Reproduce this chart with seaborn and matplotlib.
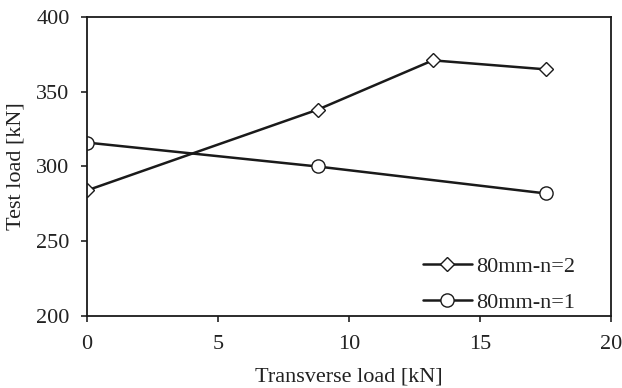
import matplotlib
matplotlib.use("Agg")
import matplotlib.pyplot as plt
import seaborn as sns
import pandas as pd

# Measured test loads against applied transverse load
transverse_n2 = [0.0, 8.8, 13.2, 17.5]
test_load_n2 = [284, 338, 371, 365]
transverse_n1 = [0.0, 8.8, 17.5]
test_load_n1 = [316, 300, 282]
series_labels = ["80mm-n=2", "80mm-n=1"]
x_ticks = [0, 5, 10, 15, 20]
y_ticks = [200, 250, 300, 350, 400]

sns.set_theme(style="ticks")
plt.rcParams["font.family"] = ["Liberation Serif", "DejaVu Serif"]

df_n2 = pd.DataFrame({"x": transverse_n2, "y": test_load_n2})
df_n1 = pd.DataFrame({"x": transverse_n1, "y": test_load_n1})

W, H = 622, 388
fig = plt.figure(figsize=(W / 100, H / 100), dpi=100)
left, right, top, bottom = 87, 611, 17, 316
ax = fig.add_axes([left / W, 1 - bottom / H, (right - left) / W, (bottom - top) / H])

ink = "#1a1a1a"
line_kw = dict(color=ink, linewidth=1.8, markerfacecolor="white",
               markeredgecolor=ink, markeredgewidth=1.0)
sns.lineplot(data=df_n2, x="x", y="y", ax=ax, marker="D", markersize=7.2,
             label=series_labels[0], **line_kw)
sns.lineplot(data=df_n1, x="x", y="y", ax=ax, marker="o", markersize=9.5,
             label=series_labels[1], **line_kw)

ax.set_xlim(0, 20)
ax.set_ylim(200, 400)
ax.set_xticks(x_ticks)
ax.set_yticks(y_ticks)
ax.set_xlabel("Transverse load [kN]", fontsize=16, color="#222222", labelpad=10)
ax.set_ylabel("Test load [kN]", fontsize=16, color="#222222", labelpad=8)
ax.tick_params(axis="both", labelsize=16, colors="#222222", direction="out",
               length=4.5, width=1.2)
ax.tick_params(axis="y", pad=8)
ax.tick_params(axis="x", pad=9)
for side in ["left", "right", "top", "bottom"]:
    ax.spines[side].set_visible(True)
    ax.spines[side].set_linewidth(1.3)
    ax.spines[side].set_color(ink)

leg_x = (423 - left) / (right - left)
leg_y = (bottom - 284.5) / (bottom - top)
leg = ax.legend(loc="center left", bbox_to_anchor=(leg_x, leg_y), frameon=False,
                fontsize=16, handlelength=2.2, handletextpad=0.2,
                labelspacing=0.7, borderpad=0, borderaxespad=0)
for t in leg.get_texts():
    t.set_color("#222222")

fig.savefig("out.png", dpi=100)
